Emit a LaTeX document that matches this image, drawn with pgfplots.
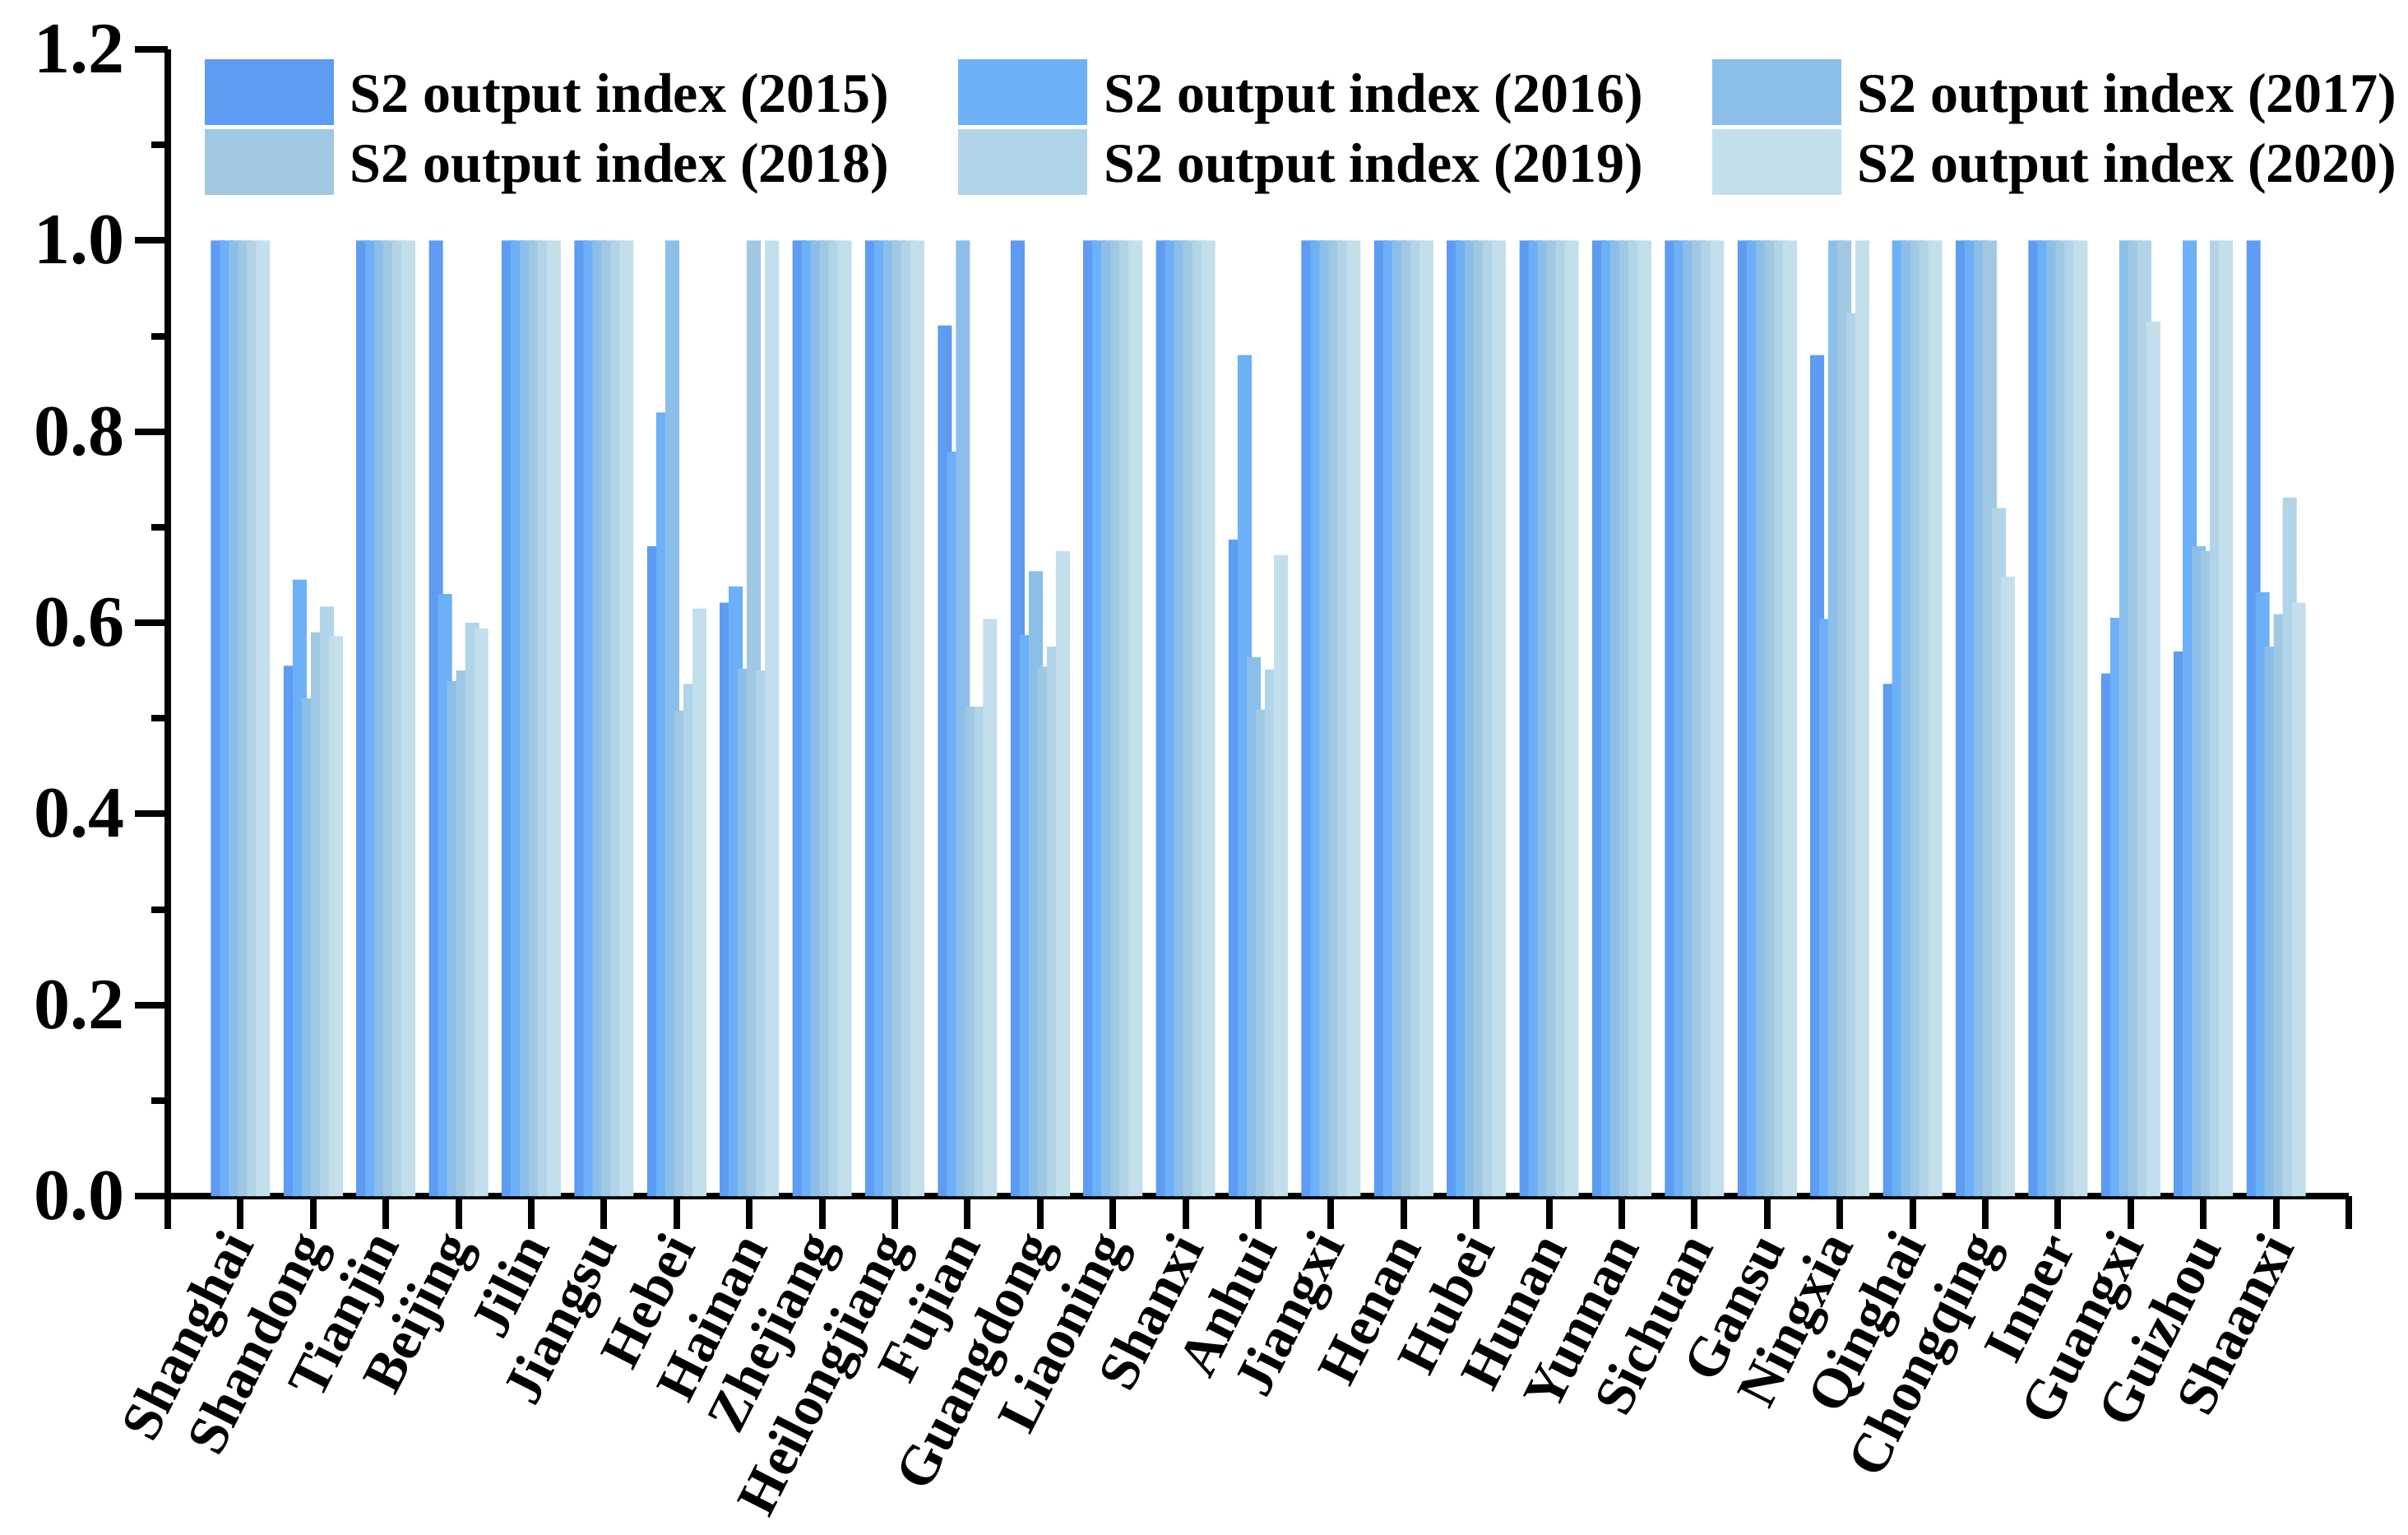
\documentclass[border=0pt]{standalone}
\usepackage{pgfplots}
\pgfplotsset{compat=1.18}
\usepackage{pgfplotstable}
\usepackage{fontspec}
\setmainfont{Liberation Serif}

\definecolor{cA}{HTML}{5E9BF2}
\definecolor{cB}{HTML}{6CB0F7}
\definecolor{cC}{HTML}{8BBFEA}
\definecolor{cD}{HTML}{A1C8E2}
\definecolor{cE}{HTML}{B1D4E9}
\definecolor{cF}{HTML}{C3DFEC}

% S2 output index by province, 2015-2020
\pgfplotstableread{
x  a     b     c     d     e     f
1  1     1     1     1     1     1
2  0.555 0.645 0.521 0.590 0.617 0.586
3  1     1     1     1     1     1
4  1     0.630 0.539 0.550 0.600 0.594
5  1     1     1     1     1     1
6  1     1     1     1     1     1
7  0.680 0.820 1     0.508 0.536 0.615
8  0.621 0.638 0.552 1     0.550 1
9  1     1     1     1     1     1
10 1     1     1     1     1     1
11 0.911 0.779 1     0.512 0.512 0.604
12 1     0.587 0.654 0.554 0.575 0.675
13 1     1     1     1     1     1
14 1     1     1     1     1     1
15 0.687 0.880 0.564 0.509 0.551 0.671
16 1     1     1     1     1     1
17 1     1     1     1     1     1
18 1     1     1     1     1     1
19 1     1     1     1     1     1
20 1     1     1     1     1     1
21 1     1     1     1     1     1
22 1     1     1     1     1     1
23 0.880 0.604 1     1     0.924 1
24 0.536 1     1     1     1     1
25 1     1     1     1     0.720 0.648
26 1     1     1     1     1     1
27 0.547 0.605 1     1     1     0.915
28 0.570 1     0.680 0.675 1     1
29 1     0.632 0.575 0.609 0.731 0.621
}\datatable

\begin{document}
\begin{tikzpicture}
\begin{axis}[
    scale only axis,
    width=663pt, height=348.5pt,
    xmin=0, xmax=30, ymin=0, ymax=1.2,
    axis x line=bottom, axis y line=left,
    axis line style={-, line width=2pt},
    tick align=outside,
    major tick length=10pt, minor tick length=5pt,
    every tick/.style={black, line width=2pt},
    xtick={0,...,30},
    xticklabels={,Shanghai,Shandong,Tianjin,Beijing,Jilin,Jiangsu,Hebei,Hainan,Zhejiang,Heilongjiang,Fujian,Guangdong,Liaoning,Shanxi,Anhui,Jiangxi,Henan,Hubei,Hunan,Yunnan,Sichuan,Gansu,Ningxia,Qinghai,Chongqing,Inner,Guangxi,Guizhou,Shaanxi,},
    xticklabel style={font=\fontsize{17}{20}\selectfont\bfseries, rotate=63, anchor=east,
        inner sep=4pt, xshift=2pt, yshift=-2pt},
    ytick={0,0.2,...,1.2},
    minor y tick num=1,
    yticklabel style={font=\fontsize{22}{26}\selectfont\bfseries, inner sep=3pt,
        /pgf/number format/.cd, fixed, fixed zerofill, precision=1, assume math mode=true},
    ybar=-1.5pt, bar width=4.25pt,
    legend columns=3,
    legend cell align=left,
    legend style={at={(0.0166,0.992)}, anchor=north west, draw=none, fill=none,
        inner sep=0pt, row sep=1.25pt,
        font=\fontsize{17}{20}\selectfont\bfseries,
        nodes={inner xsep=2pt, inner ysep=0pt},
        /tikz/every odd column/.append style={column sep=3pt},
        /tikz/every even column/.append style={column sep=19pt}},
    legend image code/.code={\fill[#1] (0pt,-9.1pt) rectangle (39.25pt,10.9pt);},
]
\coordinate (o) at (rel axis cs:0,0);
\addplot[fill=cA, draw=none] table[x=x, y=a] {\datatable};
\addplot[fill=cB, draw=none] table[x=x, y=b] {\datatable};
\addplot[fill=cC, draw=none] table[x=x, y=c] {\datatable};
\addplot[fill=cD, draw=none] table[x=x, y=d] {\datatable};
\addplot[fill=cE, draw=none] table[x=x, y=e] {\datatable};
\addplot[fill=cF, draw=none] table[x=x, y=f] {\datatable};
\legend{S2 output index (2015),S2 output index (2016),S2 output index (2017),
        S2 output index (2018),S2 output index (2019),S2 output index (2020)}
\end{axis}
\pgfresetboundingbox
\path[use as bounding box] ([shift={(-51pt,-103pt)}]o) rectangle ([shift={(681pt,363.5pt)}]o);
\end{tikzpicture}
\end{document}
